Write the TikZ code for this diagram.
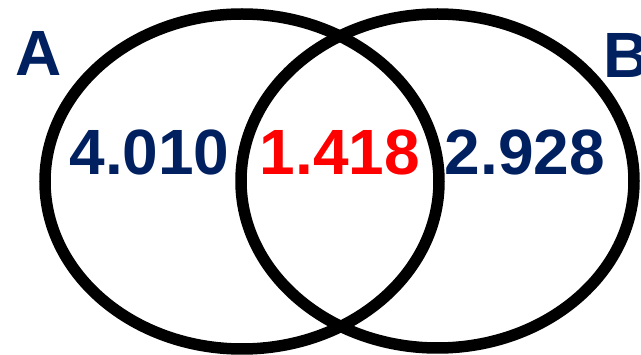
\documentclass[tikz,border=0pt]{standalone}
\usepackage{fontspec}
\setmainfont{Liberation Sans}
\definecolor{navy}{RGB}{0,32,96}
\definecolor{brightred}{RGB}{255,0,0}
\begin{document}
\begin{tikzpicture}[x=1pt,y=-1pt,
  ring/.style={draw=black,line width=11.5pt},
  lbl/.style={inner sep=0pt,anchor=base,font=\bfseries\fontsize{64}{64}\selectfont},
  setlbl/.style={lbl,text=navy}]
\useasboundingbox (0,0) rectangle (641,355);
\fill[white] (0,0) rectangle (641,355);
\draw[ring] (242,181.5) ellipse [x radius=197, y radius=167.5];
\draw[ring] (437.5,181) ellipse [x radius=196.5, y radius=167];
\node[setlbl] (A) at (39,76) {A};
\node[setlbl,anchor=base west] (B) at (603,78) {B};
\node[setlbl] (only A) at (149.5,175) {4.010};
\node[lbl,text=brightred] (both) at (340,175) {1.418};
\node[setlbl] (only B) at (525,175) {2.928};
\end{tikzpicture}
\end{document}
